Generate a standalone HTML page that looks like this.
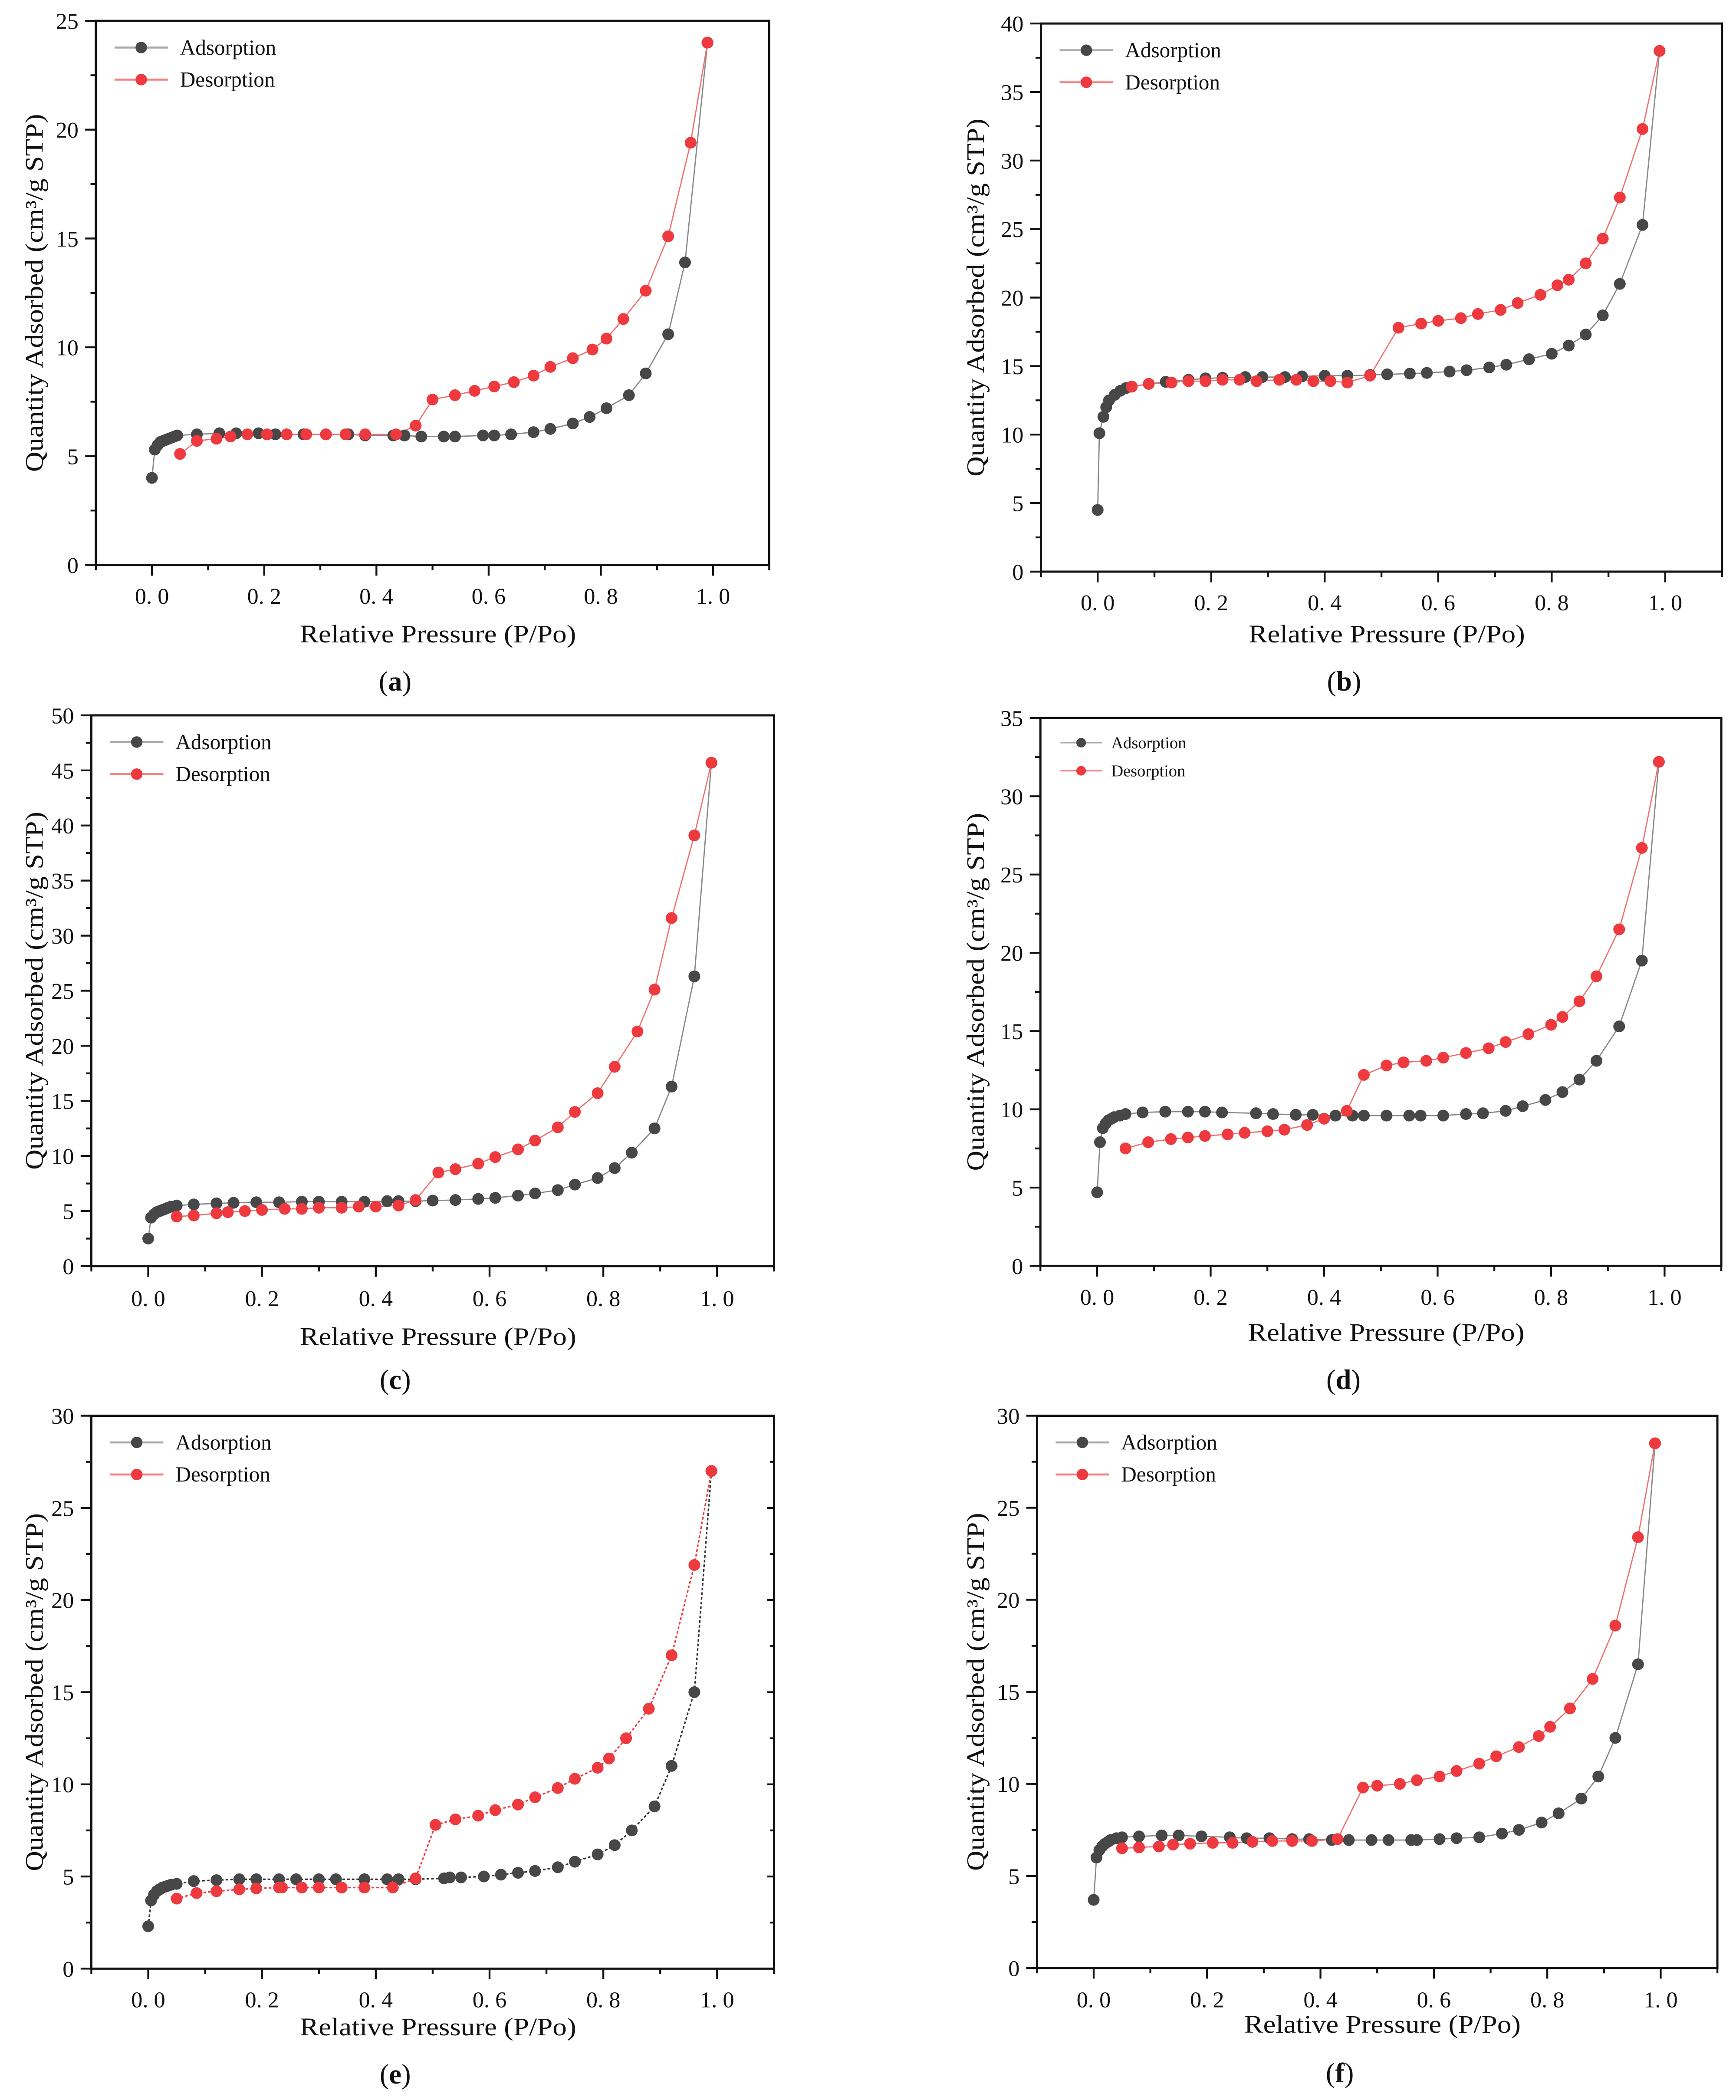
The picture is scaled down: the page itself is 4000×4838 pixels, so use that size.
<!DOCTYPE html>
<html><head><meta charset="utf-8"><style>
html,body{margin:0;padding:0;background:#fff;}
svg{display:block;}
svg text{font-family:"Liberation Serif","DejaVu Serif",serif;fill:#111;}
</style></head>
<body>
<svg id="fig" xmlns="http://www.w3.org/2000/svg" width="4000" height="4838" viewBox="0 0 1300 1572.35" font-family="Liberation Serif, serif"></svg>
<script>
const xTickVals = [0,0.2,0.4,0.6,0.8,1.0];
const xTickLabels = ["0. 0","0. 2","0. 4","0. 6","0. 8","1. 0"];

const aAdsX=[0.0,0.005,0.01,0.015,0.02,0.025,0.03,0.035,0.04,0.045,0.08,0.12,0.15,0.19,0.22,0.27,0.31,0.35,0.38,0.43,0.45,0.48,0.52,0.54,0.59,0.61,0.64,0.68,0.71,0.75,0.78,0.81,0.85,0.88,0.92,0.95,0.99];
const aAdsY=[4.0,5.3,5.5,5.65,5.7,5.75,5.8,5.85,5.9,5.95,6.0,6.05,6.05,6.05,6.0,6.0,6.0,6.0,5.95,5.95,5.95,5.9,5.9,5.9,5.95,5.95,6.0,6.1,6.25,6.5,6.8,7.2,7.8,8.8,10.6,13.9,24.0];
const aDesX=[0.99,0.96,0.92,0.88,0.84,0.81,0.785,0.75,0.71,0.68,0.645,0.61,0.575,0.54,0.50,0.47,0.435,0.38,0.345,0.31,0.275,0.24,0.205,0.17,0.14,0.115,0.08,0.05];
const aDesY=[24.0,19.4,15.1,12.6,11.3,10.4,9.9,9.5,9.1,8.7,8.4,8.2,8.0,7.8,7.6,6.4,6.0,6.0,6.0,6.0,6.0,6.0,6.0,6.0,5.9,5.8,5.7,5.1];

const bAdsX=[0.0,0.003,0.01,0.015,0.02,0.03,0.04,0.05,0.06,0.09,0.12,0.16,0.19,0.22,0.26,0.29,0.33,0.36,0.40,0.44,0.48,0.51,0.55,0.58,0.62,0.65,0.69,0.72,0.76,0.80,0.83,0.86,0.89,0.92,0.96,0.99];
const bAdsY=[4.5,10.1,11.3,12.0,12.5,12.9,13.2,13.4,13.5,13.7,13.85,14.0,14.1,14.15,14.2,14.2,14.2,14.25,14.3,14.3,14.35,14.4,14.45,14.5,14.6,14.7,14.9,15.1,15.5,15.9,16.5,17.3,18.7,21.0,25.3,38.0];
const bDesX=[0.99,0.96,0.92,0.89,0.86,0.83,0.81,0.78,0.74,0.71,0.67,0.64,0.60,0.57,0.53,0.48,0.44,0.41,0.38,0.35,0.32,0.28,0.25,0.22,0.19,0.16,0.13,0.09,0.06];
const bDesY=[38.0,32.3,27.3,24.3,22.5,21.3,20.9,20.2,19.6,19.1,18.8,18.5,18.3,18.1,17.8,14.3,13.8,13.9,13.9,14.0,14.0,13.9,14.0,14.0,13.9,13.9,13.8,13.7,13.5];

const cAdsX=[0,0.005,0.01,0.015,0.02,0.025,0.03,0.035,0.04,0.05,0.08,0.12,0.15,0.19,0.23,0.27,0.30,0.34,0.38,0.42,0.44,0.47,0.50,0.54,0.58,0.61,0.65,0.68,0.72,0.75,0.79,0.82,0.85,0.89,0.92,0.96,0.99];
const cAdsY=[2.5,4.4,4.7,4.9,5.0,5.1,5.2,5.3,5.4,5.5,5.6,5.7,5.75,5.8,5.8,5.85,5.85,5.85,5.85,5.9,5.9,5.9,5.95,6.0,6.1,6.2,6.4,6.6,6.9,7.4,8.0,8.9,10.3,12.5,16.3,26.3,45.7];
const cDesX=[0.99,0.96,0.92,0.89,0.86,0.82,0.79,0.75,0.72,0.68,0.65,0.61,0.58,0.54,0.51,0.47,0.44,0.40,0.37,0.34,0.30,0.27,0.24,0.20,0.17,0.14,0.12,0.08,0.05];
const cDesY=[45.7,39.1,31.6,25.1,21.3,18.1,15.7,14.0,12.6,11.4,10.6,9.9,9.3,8.8,8.5,6.0,5.5,5.4,5.4,5.3,5.3,5.2,5.2,5.1,5.0,4.9,4.8,4.6,4.5];

const dAdsX=[0,0.005,0.01,0.015,0.02,0.025,0.03,0.04,0.05,0.08,0.12,0.16,0.19,0.22,0.28,0.31,0.35,0.38,0.42,0.45,0.47,0.51,0.55,0.57,0.61,0.65,0.68,0.72,0.75,0.79,0.82,0.85,0.88,0.92,0.96,0.99];
const dAdsY=[4.7,7.9,8.8,9.1,9.3,9.4,9.5,9.6,9.7,9.8,9.85,9.85,9.85,9.8,9.75,9.7,9.65,9.65,9.6,9.6,9.6,9.6,9.6,9.6,9.6,9.7,9.75,9.9,10.2,10.6,11.1,11.9,13.1,15.3,19.5,32.2];
const dDesX=[0.99,0.96,0.92,0.88,0.85,0.82,0.80,0.76,0.72,0.69,0.65,0.61,0.58,0.54,0.51,0.47,0.44,0.40,0.37,0.33,0.30,0.26,0.23,0.19,0.16,0.13,0.09,0.05];
const dDesY=[32.2,26.7,21.5,18.5,16.9,15.9,15.4,14.8,14.3,13.9,13.6,13.3,13.1,13.0,12.8,12.2,9.9,9.4,9.0,8.7,8.6,8.5,8.4,8.3,8.2,8.1,7.9,7.5];

const eAdsX=[0,0.005,0.01,0.015,0.02,0.025,0.03,0.035,0.04,0.05,0.08,0.12,0.16,0.19,0.23,0.26,0.30,0.33,0.38,0.42,0.44,0.47,0.52,0.53,0.55,0.59,0.62,0.65,0.68,0.72,0.75,0.79,0.82,0.85,0.89,0.92,0.96,0.99];
const eAdsY=[2.3,3.7,4.0,4.2,4.3,4.4,4.45,4.5,4.55,4.6,4.75,4.8,4.85,4.85,4.85,4.85,4.85,4.85,4.85,4.85,4.85,4.85,4.9,4.95,4.95,5.0,5.1,5.2,5.3,5.5,5.8,6.2,6.7,7.5,8.8,11.0,15.0,27.0];
const eDesX=[0.99,0.96,0.92,0.88,0.84,0.81,0.79,0.75,0.72,0.68,0.65,0.61,0.58,0.54,0.505,0.47,0.43,0.38,0.34,0.30,0.27,0.235,0.23,0.19,0.16,0.12,0.085,0.05];
const eDesY=[27.0,21.9,17.0,14.1,12.5,11.4,10.9,10.3,9.8,9.3,8.9,8.6,8.3,8.1,7.8,4.9,4.4,4.4,4.4,4.4,4.4,4.4,4.4,4.35,4.3,4.2,4.1,3.8];

const fAdsX=[0,0.005,0.01,0.015,0.02,0.025,0.03,0.04,0.05,0.08,0.12,0.15,0.19,0.24,0.27,0.31,0.35,0.38,0.42,0.45,0.49,0.52,0.56,0.57,0.61,0.64,0.68,0.72,0.75,0.79,0.82,0.86,0.89,0.92,0.96,0.99];
const fAdsY=[3.7,6.0,6.4,6.6,6.75,6.85,6.95,7.05,7.1,7.15,7.2,7.2,7.15,7.1,7.05,7.05,7.0,7.0,6.95,6.95,6.95,6.95,6.95,6.95,7.0,7.05,7.1,7.3,7.5,7.9,8.4,9.2,10.4,12.5,16.5,28.5];
const fDesX=[0.99,0.96,0.92,0.88,0.84,0.805,0.785,0.75,0.71,0.68,0.64,0.61,0.57,0.54,0.50,0.475,0.43,0.385,0.35,0.315,0.28,0.245,0.21,0.17,0.14,0.115,0.08,0.05];
const fDesY=[28.5,23.4,18.6,15.7,14.1,13.1,12.6,12.0,11.5,11.1,10.7,10.4,10.2,10.0,9.9,9.8,7.0,6.9,6.9,6.9,6.85,6.8,6.8,6.75,6.7,6.6,6.55,6.5];

const panelIds=["a","b","c","d","e","f"];
const panelYMax=[25,40,50,35,30,30];
const panelData={
 a:[aAdsX,aAdsY,aDesX,aDesY], b:[bAdsX,bAdsY,bDesX,bDesY], c:[cAdsX,cAdsY,cDesX,cDesY],
 d:[dAdsX,dAdsY,dDesX,dDesY], e:[eAdsX,eAdsY,eDesX,eDesY], f:[fAdsX,fAdsY,fDesX,fDesY]
};
const layout={
 a:{x0:113.8,x1:534,top:15.6,bot:423,tickY:452,labY:481,capY:517,ylx:25,leg:"big"},
 b:{x0:822,x1:1247,top:17.6,bot:428,tickY:457,labY:481,capY:517,ylx:730,leg:"big"},
 c:{x0:111,x1:537,top:535.6,bot:948,tickY:978,labY:1007,capY:1040,ylx:25,leg:"big"},
 d:{x0:821.6,x1:1246.5,top:537.6,bot:947.8,tickY:977,labY:1004,capY:1040,ylx:730,leg:"small"},
 e:{x0:111,x1:537,top:1060,bot:1474,tickY:1503,labY:1524,capY:1560,ylx:25,leg:"big",dotted:true,rightTicks:true},
 f:{x0:819,x1:1243.6,top:1060,bot:1473.5,tickY:1503,labY:1522,capY:1559,ylx:730,leg:"big"}
};
const NS="http://www.w3.org/2000/svg";
const svg=document.getElementById('fig');
const SERIF='"Liberation Serif", serif';
function mk(tag,attrs,parent){const e=document.createElementNS(NS,tag);for(const k in attrs)e.setAttribute(k,attrs[k]);if(tag==='text')e.setAttribute('font-family',SERIF);(parent||svg).appendChild(e);return e;}
const ADS="#474747", DES="#ee3a3f";

panelIds.forEach((id,pi)=>{
  const L=layout[id], ymax=panelYMax[pi];
  const sx=v=>L.x0+(L.x1-L.x0)*v;
  const sy=v=>L.bot-(L.bot-L.top)*v/ymax;
  const left=sx(-0.1), right=sx(1.1);
  const g=mk('g',{});
  
  
  const frame=mk('rect',{x:left,y:L.top,width:right-left,height:L.bot-L.top,fill:'none',stroke:'#111','stroke-width':1.6},g);
  
  
  for(let i=-1;i<=11;i++){
    const v=i/10, major=(i%2===0);
    mk('line',{x1:sx(v),x2:sx(v),y1:L.bot,y2:L.bot+(major?8:4),stroke:'#111','stroke-width':1.4},g);
  }
  xTickVals.forEach((v,i)=>{
    const t=mk('text',{x:sx(v),y:L.tickY,'text-anchor':'middle','font-size':17},g);
    t.textContent=xTickLabels[i];
    
    
  });
  for(let v=0;v<=ymax+0.01;v+=2.5){
    const major=(Math.round(v*2)%10===0);
    mk('line',{x1:left-(major?8:4),x2:left,y1:sy(v),y2:sy(v),stroke:'#111','stroke-width':1.4},g);
    if(L.rightTicks) mk('line',{x1:right-(major?5:3),x2:right,y1:sy(v),y2:sy(v),stroke:'#111','stroke-width':1.4},g);
    if(major){
      const t=mk('text',{x:left-13,y:sy(v)+6,'text-anchor':'end','font-size':17},g);
      t.textContent=String(v);
      
      
    }
  }
  const xl=mk('text',{x:(sx(0)+sx(1))/2+4,y:L.labY,'text-anchor':'middle','font-size':19,textLength:207,lengthAdjust:'spacingAndGlyphs'},g);
  xl.textContent="Relative Pressure (P/Po)";
  
  
  const yc=(L.top+L.bot)/2;
  const yl=mk('text',{x:0,y:0,'text-anchor':'middle','font-size':19,textLength:268,lengthAdjust:'spacingAndGlyphs',transform:`translate(${L.ylx+7},${yc}) rotate(-90)`},g);
  yl.textContent="Quantity Adsorbed (cm³/g STP)";
  
  
  const cap=mk('text',{x:(sx(0)+sx(1))/2-28,y:L.capY,'text-anchor':'middle','font-size':21},g);
  cap.innerHTML='(<tspan font-weight="bold">'+id+'</tspan>)';
  
  
  const [ax,ay,dx,dy]=panelData[id];
  const series=[[ax,ay,ADS,'#888','adsorption'],[dx,dy,DES,'#f07070','desorption']];
  series.forEach(([X,Y,col,lc,nm])=>{
    const pts=X.map((x,i)=>sx(x).toFixed(2)+','+sy(Y[i]).toFixed(2)).join(' ');
    const pl=mk('polyline',{points:pts,fill:'none',stroke:L.dotted?(nm==='adsorption'?'#333':DES):lc,'stroke-width':L.dotted?1.1:0.9,'stroke-dasharray':L.dotted?'2,1.5':'none'},g);
    
    
  });
  series.forEach(([X,Y,col,lc,nm])=>{
    X.forEach((x,i)=>{
      const c=mk('circle',{cx:sx(x),cy:sy(Y[i]),r:4.4,fill:col},g);
      
      
    });
  });
  const small=L.leg==='small';
  const lx=left+(small?15:14), ly1=L.top+(small?18.5:20), ly2=L.top+(small?39.5:44);
  const lw=small?31:40, fs=small?12.5:16, tx=left+(small?53:63);
  [[ly1,ADS,'#aaa','Adsorption'],[ly2,DES,'#f58080','Desorption']].forEach(([yy,col,lc,txt])=>{
    const lg=mk('g',{},g);
    
    
    mk('line',{x1:lx,x2:lx+lw,y1:yy,y2:yy,stroke:lc,'stroke-width':small?1:1.5},lg);
    mk('circle',{cx:lx+lw/2,cy:yy,r:small?3.6:4.3,fill:col},lg);
    const t=mk('text',{x:tx,y:yy+fs*0.33,'font-size':fs},lg);
    t.textContent=txt;
  });
});
</script>
</body></html>
